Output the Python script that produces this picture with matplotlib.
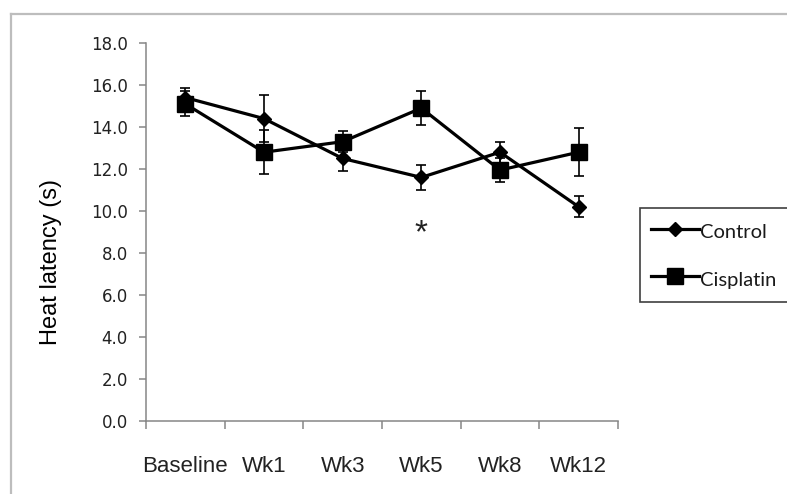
import matplotlib.pyplot as plt
from matplotlib.lines import Line2D

# data
categories = ['Baseline', 'Wk1', 'Wk3', 'Wk5', 'Wk8', 'Wk12']
control = [15.4, 14.4, 12.5, 11.6, 12.8, 10.2]
control_err = [0.45, 1.1, 0.6, 0.6, 0.5, 0.5]
cisplatin = [15.1, 12.8, 13.3, 14.9, 11.95, 12.8]
cisplatin_err = [0.6, 1.05, 0.5, 0.8, 0.55, 1.15]
yticks = [0, 2, 4, 6, 8, 10, 12, 14, 16, 18]
star_pos = (3, 8.9)

W, H = 787, 494
fig = plt.figure(figsize=(W / 100, H / 100), dpi=100)
ax = fig.add_axes([146 / W, 1 - 421 / H, (618 - 146) / W, (421 - 43) / H])

x = list(range(len(categories)))
gray = '#868686'

ax.errorbar(x, control, yerr=control_err, color='black', lw=2.3, marker='D', ms=7.5,
            ecolor='black', elinewidth=1.2, capsize=3.6, capthick=1.2, zorder=3)
ax.errorbar(x, cisplatin, yerr=cisplatin_err, color='black', lw=2.3, marker='s', ms=11,
            ecolor='black', elinewidth=1.2, capsize=3.6, capthick=1.2, zorder=4)

ax.text(star_pos[0], star_pos[1], '*', ha='center', va='center', fontsize=24,
        family='Liberation Sans', color='#222222')

ax.set_xlim(-0.5, len(categories) - 0.5)
ax.set_ylim(0, 18)
ax.set_yticks(yticks)
ax.set_yticklabels(['%.1f' % v for v in yticks], family='DejaVu Sans', fontsize=12, color='#222222')
ax.set_xticks(x)
ax.set_xticklabels(categories, family='Liberation Sans', fontsize=16, color='#222222')
ax.set_xticks([i - 0.5 for i in range(len(categories) + 1)], minor=True)
ax.tick_params(axis='x', which='major', length=0, pad=25)
ax.tick_params(axis='x', which='minor', length=6, width=1.1, color=gray, direction='out')
ax.tick_params(axis='y', length=5, width=1.1, color=gray, direction='out', pad=8)

for s in ['top', 'right']:
    ax.spines[s].set_visible(False)
for s in ['left', 'bottom']:
    ax.spines[s].set_color(gray)
    ax.spines[s].set_linewidth(1.1)

fig.text(51 / W, 1 - 262 / H, 'Heat latency (s)', rotation=90, ha='center', va='center',
         family='Liberation Sans', fontsize=17, color='black')

handles = [Line2D([], [], color='black', lw=2.3, marker='D', ms=7.5),
           Line2D([], [], color='black', lw=2.3, marker='s', ms=11)]
leg = fig.legend(handles, ['Control', 'Cisplatin'], loc='upper left',
                 bbox_to_anchor=(640 / W, 1 - 208 / H), borderaxespad=0,
                 prop={'family': 'Lato', 'size': 14.5}, handlelength=2.4, handleheight=1.5,
                 handletextpad=0.05, labelspacing=1.15, borderpad=0.55,
                 fancybox=False, framealpha=1)
leg.get_frame().set_edgecolor('#404040')
leg.get_frame().set_linewidth(1.2)
for t in leg.get_texts():
    t.set_color('#1a1a1a')

# outer chart border
fig.add_artist(Line2D([11 / W, 11 / W], [0, 1 - 14 / H], transform=fig.transFigure,
                      color='#bdbdbd', lw=1.6))
fig.add_artist(Line2D([11 / W, 1], [1 - 14 / H, 1 - 14 / H], transform=fig.transFigure,
                      color='#bdbdbd', lw=1.6))

fig.savefig('out.png', dpi=100)
